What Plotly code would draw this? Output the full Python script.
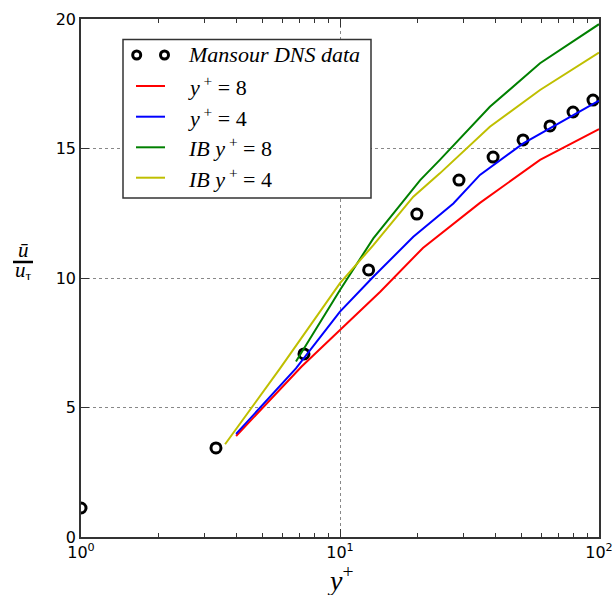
import plotly.graph_objects as go

# DNS data
dns_x = [1.0, 3.32, 7.26, 12.9, 19.8, 28.8, 39.0, 50.9, 64.7, 79.4, 94.8]
dns_u = [1.12, 3.44, 7.07, 10.31, 12.47, 13.78, 14.67, 15.33, 15.87, 16.41, 16.87]

# y+ = 8 (red)
r_x = [3.97, 7.11, 10.0, 14.3, 20.9, 34.7, 59.2, 100.0]
r_u = [3.9, 6.58, 7.99, 9.47, 11.16, 12.9, 14.56, 15.75]

# y+ = 4 (blue)
b_x = [3.97, 6.76, 10.0, 13.45, 19.19, 27.4, 34.7, 51.0, 100.0]
b_u = [3.98, 6.51, 8.70, 10.05, 11.59, 12.88, 13.98, 15.2, 16.85]

# IB y+ = 8 (green)
g_x = [6.76, 10.0, 13.45, 20.4, 24.3, 37.9, 59.2, 100.0]
g_u = [6.78, 9.54, 11.53, 13.78, 14.56, 16.61, 18.29, 19.8]

# IB y+ = 4 (yellow)
y_x = [3.6, 5.87, 10.0, 13.45, 19.19, 24.3, 37.9, 59.2, 100.0]
y_u = [3.58, 6.51, 9.80, 11.27, 13.14, 14.04, 15.84, 17.26, 18.7]

x_tickvals = [1, 10, 100]
x_ticktext = ["10<sup>0</sup>", "10<sup>1</sup>", "10<sup>2</sup>"]
y_tickvals = [0, 5, 10, 15, 20]
minor_vals = [2, 3, 4, 5, 6, 7, 8, 9, 20, 30, 40, 50, 60, 70, 80, 90]

legend_names = ["<i>Mansour DNS data</i>",
                "<i>y</i><sup> +</sup> = 8",
                "<i>y</i><sup> +</sup> = 4",
                "<i>IB y</i><sup> +</sup> = 8",
                "<i>IB y</i><sup> +</sup> = 4"]
colors = ["black", "#ff0000", "#0000ff", "#008000", "#bfbf00"]

fig = go.Figure()
fig.add_trace(go.Scatter(x=dns_x, y=dns_u, mode="markers", name=legend_names[0],
                         marker=dict(symbol="circle-open", size=10, color="black",
                                     line=dict(width=3, color="black"))))
for xs, us, nm, c in [(r_x, r_u, legend_names[1], colors[1]),
                      (b_x, b_u, legend_names[2], colors[2]),
                      (g_x, g_u, legend_names[3], colors[3]),
                      (y_x, y_u, legend_names[4], colors[4])]:
    fig.add_trace(go.Scatter(x=xs, y=us, mode="lines", name=nm,
                             line=dict(color=c, width=2)))

axis_common = dict(showline=True, linecolor="#333333", linewidth=1.5, mirror="ticks",
                   ticks="inside", ticklen=8, tickwidth=1, tickcolor="#333333",
                   showgrid=True, gridcolor="#888888", griddash="dot", gridwidth=1,
                   zeroline=False, automargin=False,
                   tickfont=dict(family="DejaVu Sans", size=16, color="black"))

fig.update_xaxes(type="log", range=[0, 2], tickmode="array", tickvals=x_tickvals,
                 ticktext=x_ticktext,
                 minor=dict(tickmode="array", tickvals=minor_vals, ticks="inside",
                            ticklen=4, tickcolor="#333333", showgrid=False),
                 **axis_common)
fig.update_yaxes(range=[0, 20], tickmode="array", tickvals=y_tickvals, **axis_common)

# plot-area pixel helpers (plot area: x 81..599, y 19..537)
def px(x):
    return (x - 81) / 518.0

def py(y):
    return (537 - y) / 518.0

# axis titles
fig.add_annotation(xref="paper", yref="paper", x=px(340), y=py(578),
                   text="<i>y</i><sup>+</sup>", showarrow=False,
                   font=dict(family="Liberation Serif", size=28, color="black"),
                   xanchor="center", yanchor="middle")
fig.add_annotation(xref="paper", yref="paper", x=px(23), y=py(250), text="<i>ū</i>",
                   showarrow=False, font=dict(family="Liberation Serif", size=21, color="black"),
                   xanchor="center", yanchor="middle", height=18, valign="middle")
fig.add_annotation(xref="paper", yref="paper", x=px(23), y=py(271), text="<i>u</i><sub>τ</sub>",
                   showarrow=False, font=dict(family="Liberation Serif", size=21, color="black"),
                   xanchor="center", yanchor="middle", height=18, valign="middle")
fig.add_shape(type="line", xref="paper", yref="paper", x0=px(13), x1=px(33),
              y0=py(262), y1=py(262), line=dict(color="black", width=2.5))

# custom legend (matplotlib-like, two markers for the DNS entry)
fig.add_shape(type="rect", xref="paper", yref="paper", layer="above",
              x0=px(123), x1=px(371), y0=py(198), y1=py(39.5),
              fillcolor="white", line=dict(color="#333333", width=1.5))
row_y = [55, 86, 116.7, 147.3, 177.7]
for i, (nm, c) in enumerate(zip(legend_names, colors)):
    ry = py(row_y[i])
    if i == 0:
        for cx in (136.7, 164.5):
            fig.add_shape(type="circle", xref="paper", yref="paper", layer="above",
                          xsizemode="pixel", ysizemode="pixel",
                          xanchor=px(cx), yanchor=ry, x0=-4, x1=4, y0=-4, y1=4,
                          line=dict(color="black", width=3), fillcolor="rgba(0,0,0,0)")
    else:
        fig.add_shape(type="line", xref="paper", yref="paper", layer="above",
                      x0=px(136), x1=px(165), y0=ry, y1=ry,
                      line=dict(color=c, width=2))
    fig.add_annotation(xref="paper", yref="paper", x=px(186), y=ry, text=nm,
                       showarrow=False, xanchor="left", yanchor="middle",
                       font=dict(family="Liberation Serif", size=22, color="black"))

fig.update_layout(
    width=613, height=595,
    margin=dict(l=81, r=14, t=19, b=58, autoexpand=False),
    paper_bgcolor="white", plot_bgcolor="white",
    showlegend=False,
)

fig.write_html("out.html", config={"displayModeBar": False},
               post_script="document.body.style.margin='0';document.body.style.overflow='hidden';")
